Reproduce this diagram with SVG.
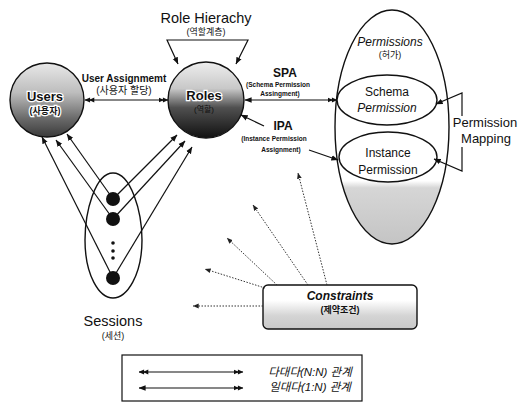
<svg xmlns="http://www.w3.org/2000/svg" width="519" height="402" viewBox="0 0 519 402">
<style>
  text { font-family: "Liberation Sans", "Noto Sans CJK KR", sans-serif; fill: #111; text-anchor: middle; }
  .halo { stroke: #fff; stroke-width: 2.5; paint-order: stroke; font-weight: bold; }
  .ln { fill: none; stroke: #111; stroke-width: 1.2; }
  .dot { fill: none; stroke: #333; stroke-width: 1; stroke-dasharray: 1.5 1.5; }
  .shape { stroke: #111; stroke-width: 1.4; }
</style>
<defs>
  <linearGradient id="gU" x1="0" y1="0" x2="0" y2="1">
    <stop offset="0" stop-color="#e8e8e8"/>
    <stop offset="0.4" stop-color="#bdbdbd"/>
    <stop offset="0.75" stop-color="#6a6a6a"/>
    <stop offset="1" stop-color="#3a3a3a"/>
  </linearGradient>
  <linearGradient id="gR" x1="0" y1="0" x2="0" y2="1">
    <stop offset="0" stop-color="#eeeeee"/>
    <stop offset="0.35" stop-color="#c8c8c8"/>
    <stop offset="0.6" stop-color="#505050"/>
    <stop offset="1" stop-color="#111111"/>
  </linearGradient>
  <linearGradient id="gP" x1="0" y1="0" x2="0" y2="1">
    <stop offset="0" stop-color="#ffffff"/>
    <stop offset="0.73" stop-color="#ffffff"/>
    <stop offset="0.76" stop-color="#d6d6d6"/>
    <stop offset="1" stop-color="#c4c4c4"/>
  </linearGradient>
  <linearGradient id="gC" x1="0" y1="0" x2="0" y2="1">
    <stop offset="0" stop-color="#ffffff"/>
    <stop offset="0.35" stop-color="#ffffff"/>
    <stop offset="0.7" stop-color="#d4d4d4"/>
    <stop offset="1" stop-color="#c8c8c8"/>
  </linearGradient>
  <marker id="ah" viewBox="0 0 10 10" refX="9.5" refY="5" markerWidth="7" markerHeight="7" markerUnits="userSpaceOnUse" orient="auto-start-reverse">
    <path d="M0,1 L10,5 L0,9 Z" fill="#111"/>
  </marker>
  <marker id="ah2" viewBox="0 0 16 10" refX="15.5" refY="5" markerWidth="10" markerHeight="6" markerUnits="userSpaceOnUse" orient="auto-start-reverse">
    <path d="M0,1 L9,5 L0,9 Z M7,1 L16,5 L7,9 Z" fill="#111"/>
  </marker>
  <marker id="ahd" viewBox="0 0 10 10" refX="9.5" refY="5" markerWidth="6" markerHeight="6" markerUnits="userSpaceOnUse" orient="auto">
    <path d="M0,1 L10,5 L0,9 Z" fill="#222"/>
  </marker>
</defs>
<rect width="519" height="402" fill="#fff"/>

<g id="permissions">
  <ellipse class="shape" cx="392" cy="127" rx="57" ry="117" fill="url(#gP)"/>
  <text x="390" y="46" font-size="12" font-style="italic">Permissions</text>
  <text x="390" y="58" font-size="9">(허가)</text>
</g>
<g id="schema-permission">
  <ellipse class="shape" cx="387" cy="100" rx="50" ry="25" fill="#fff"/>
  <text x="387" y="96" font-size="12">Schema</text>
  <text x="387" y="112" font-size="12" font-style="italic">Permission</text>
</g>
<g id="instance-permission">
  <ellipse class="shape" cx="388" cy="157" rx="49" ry="25" fill="#fff"/>
  <text x="388" y="157" font-size="12">Instance</text>
  <text x="388" y="174" font-size="12">Permission</text>
</g>

<g id="users">
  <circle class="shape" cx="47" cy="100" r="37" fill="url(#gU)"/>
  <text class="halo" x="45" y="101" font-size="13">Users</text>
  <text class="halo" x="45" y="114" font-size="9">(사용자)</text>
</g>
<g id="roles">
  <circle class="shape" cx="206" cy="100" r="38" fill="url(#gR)"/>
  <text class="halo" x="204" y="100" font-size="13">Roles</text>
  <text x="204" y="112" font-size="8" fill="#222">(역할)</text>
</g>

<g id="sessions">
  <path class="shape" fill="none" d="M113,173 C95,173 85,212 85,240 C85,275 99,298 113,298 C127,298 142,275 142,240 C142,212 131,173 113,173 Z"/>
  <circle cx="113" cy="199" r="7" fill="#111"/>
  <circle cx="113" cy="219" r="7" fill="#111"/>
  <circle cx="113" cy="243" r="1.8" fill="#111"/>
  <circle cx="113" cy="251" r="1.8" fill="#111"/>
  <circle cx="113" cy="258" r="1.8" fill="#111"/>
  <circle cx="113" cy="278" r="7" fill="#111"/>
  <text x="113" y="326" font-size="14.5">Sessions</text>
  <text x="113" y="339" font-size="9">(세션)</text>
</g>

<g id="constraints">
  <rect class="shape" x="263" y="285" width="154" height="44" rx="5" fill="url(#gC)"/>
  <text x="340" y="300" font-size="12" font-weight="bold" font-style="italic">Constraints</text>
  <text x="340" y="313" font-size="9" font-weight="bold">(제약조건)</text>
</g>

<g id="legend">
  <rect x="122" y="355" width="240" height="46" fill="none" stroke="#111" stroke-width="1.2"/>
  <line class="ln" x1="139" y1="372" x2="243" y2="372" marker-start="url(#ah2)" marker-end="url(#ah2)"/>
  <line class="ln" x1="139" y1="388" x2="243" y2="388" marker-start="url(#ah)" marker-end="url(#ah2)"/>
  <text x="310" y="376" font-size="11.5" font-style="italic">다대다(N:N) 관계</text>
  <text x="310" y="391" font-size="11.5" font-style="italic">일대다(1:N) 관계</text>
</g>

<g id="connectors">
  <!-- Role hierarchy -->
  <path class="ln" d="M178,64 L167,40 L248,40 L236,64" marker-start="url(#ah)" marker-end="url(#ah)"/>
  <text x="206" y="23" font-size="14.5">Role Hierachy</text>
  <text x="206" y="35" font-size="9">(역할계층)</text>
  <!-- User assignment -->
  <line class="ln" x1="85" y1="100" x2="168" y2="100" marker-start="url(#ah2)" marker-end="url(#ah2)"/>
  <text x="124" y="82" font-size="10" font-weight="bold">User Assignmemt</text>
  <text x="124" y="94" font-size="10">(사용자 할당)</text>
  <!-- SPA -->
  <line class="ln" x1="245" y1="100" x2="337" y2="100" marker-start="url(#ah)" marker-end="url(#ah2)"/>
  <text x="285" y="77" font-size="12" font-weight="bold">SPA</text>
  <text x="278" y="87" font-size="6.5" font-weight="bold">(Schema Permission</text>
  <text x="280" y="96" font-size="6.5" font-weight="bold">Assingment)</text>
  <!-- IPA -->
  <line class="ln" x1="264" y1="126" x2="241" y2="115" marker-end="url(#ah)"/>
  <text x="283" y="130" font-size="12" font-weight="bold">IPA</text>
  <text x="274" y="141" font-size="6.5" font-weight="bold">(Instance Permission</text>
  <text x="281" y="152" font-size="6.5" font-weight="bold">Assignment)</text>
  <line class="ln" x1="309" y1="150" x2="338" y2="160" marker-end="url(#ah)"/>
  <!-- Permission mapping -->
  <path class="ln" d="M462,116 L462,93 L436,104" marker-end="url(#ah)"/>
  <path class="ln" d="M462,147 L462,171 L434,159" marker-end="url(#ah)"/>
  <text x="485" y="127" font-size="13">Permission</text>
  <text x="486" y="143" font-size="13">Mapping</text>
  <!-- Sessions to users / roles -->
  <line class="ln" x1="113" y1="199" x2="67" y2="134" marker-end="url(#ah)"/>
  <line class="ln" x1="113" y1="219" x2="56" y2="140" marker-end="url(#ah)"/>
  <line class="ln" x1="113" y1="278" x2="42" y2="137" marker-end="url(#ah)"/>
  <line class="ln" x1="113" y1="199" x2="177" y2="135" marker-end="url(#ah)"/>
  <line class="ln" x1="113" y1="219" x2="185" y2="141" marker-end="url(#ah)"/>
  <line class="ln" x1="113" y1="278" x2="192" y2="147" marker-end="url(#ah)"/>
  <!-- Constraints dotted -->
  <line class="dot" x1="263" y1="306" x2="193" y2="306" marker-end="url(#ahd)"/>
  <line class="dot" x1="265" y1="288" x2="205" y2="269" marker-end="url(#ahd)"/>
  <line class="dot" x1="277" y1="285" x2="227" y2="238" marker-end="url(#ahd)"/>
  <line class="dot" x1="308" y1="285" x2="253" y2="205" marker-end="url(#ahd)"/>
  <line class="dot" x1="327" y1="285" x2="298" y2="173" marker-end="url(#ahd)"/>
</g>
</svg>
